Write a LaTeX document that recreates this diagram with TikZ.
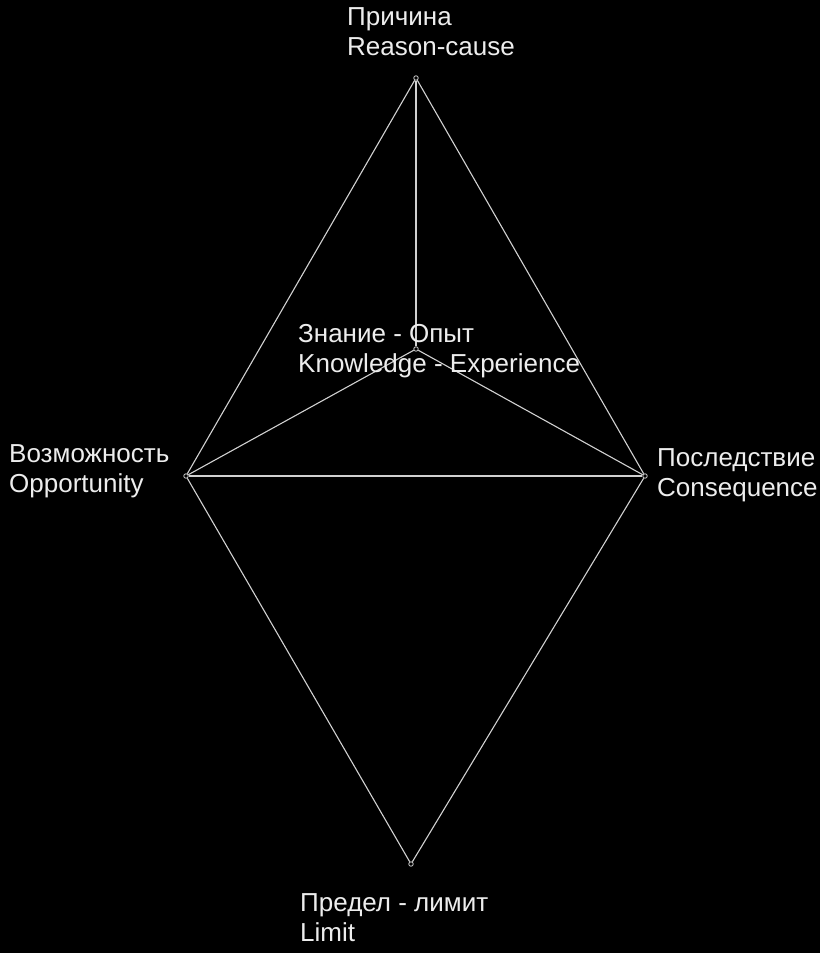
\documentclass[tikz,border=0pt]{standalone}
\usepackage{fontspec}
\setmainfont{Liberation Sans}
\definecolor{linegray}{gray}{0.82}
\definecolor{textgray}{gray}{0.93}
\begin{document}
\begin{tikzpicture}[x=1pt,y=-1pt,
  vtx/.style={circle,draw=linegray,fill=black,line width=0.8pt,inner sep=0pt,minimum size=4.5pt},
  edge/.style={draw=linegray,line width=1.1pt},
  lbl/.style={anchor=north west,inner sep=0pt,align=left,text=textgray,
    font=\fontsize{26}{30}\selectfont}]
\fill[black] (0,0) rectangle (820,953);
\useasboundingbox (0,0) rectangle (820,953);
% vertices
\node[vtx] (T) at (416,78) {};
\node[vtx] (C) at (416,349) {};
\node[vtx] (L) at (186,476) {};
\node[vtx] (R) at (645,476) {};
\node[vtx] (B) at (411,864) {};
% edges
\draw[edge] (T) -- (L);
\draw[edge] (T) -- (R);
\draw[edge] (T) -- (C);
\draw[edge] (C) -- (L);
\draw[edge] (C) -- (R);
\draw[edge] (L) -- (R);
\draw[edge] (L) -- (B);
\draw[edge] (R) -- (B);
% labels
\node[lbl] (tl) at (347,7.4) {Причина\\Reason-cause};
\node[lbl] (cl) at (298,324.4) {Знание - Опыт\\Knowledge - Experience};
\node[lbl] (ll) at (9,444.4) {Возможность\\Opportunity};
\node[lbl] (rl) at (657,448.4) {Последствие\\Consequence};
\node[lbl] (bl) at (300,893.4) {Предел - лимит\\Limit};
\end{tikzpicture}
\end{document}
